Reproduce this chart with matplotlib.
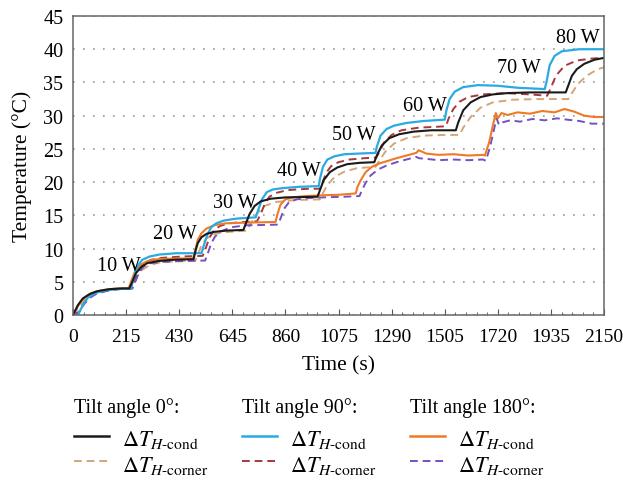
import matplotlib
matplotlib.use("Agg")
import matplotlib.pyplot as plt
from matplotlib.lines import Line2D
from matplotlib.ticker import MultipleLocator

plt.rcParams["font.family"] = ["Liberation Serif", "DejaVu Serif"]
plt.rcParams["mathtext.fontset"] = "stix"

# tilt angle 0
t_0_cond = [0, 20, 40, 70, 100, 150, 200, 228, 240, 255, 275, 300, 340, 400, 488, 495, 505, 520, 540, 570, 620, 690,
            700, 715, 735, 760, 800, 860, 990, 1000, 1015, 1040, 1070, 1110, 1160, 1220, 1230, 1250, 1280, 1320, 1380,
            1450, 1550, 1560, 1580, 1610, 1650, 1700, 1760, 1850, 1995, 2005, 2020, 2040, 2070, 2110, 2150]
T_0_cond = [0, 1.5, 2.5, 3.2, 3.6, 3.9, 4.0, 4.0, 5.0, 6.3, 7.2, 7.8, 8.1, 8.3, 8.4, 9.5, 10.8, 11.7, 12.2, 12.5, 12.7,
            12.8, 13.8, 15.2, 16.4, 17.1, 17.5, 17.7, 17.8, 18.8, 20.3, 21.5, 22.2, 22.7, 22.9, 23.0, 24.0, 25.5, 26.6,
            27.2, 27.6, 27.8, 27.8, 29.0, 30.8, 32.0, 32.8, 33.2, 33.4, 33.5, 33.5, 34.5, 36.0, 37.0, 37.8, 38.4, 38.7]

t_0_corner = [0, 25, 50, 80, 120, 170, 230, 245, 260, 280, 310, 350, 420, 495, 505, 520, 540, 565, 600, 660, 705, 720,
              745, 775, 820, 900, 1000, 1010, 1030, 1060, 1100, 1150, 1225, 1240, 1265, 1300, 1350, 1420, 1500, 1565,
              1580, 1610, 1650, 1700, 1780, 1880, 2005, 2020, 2045, 2080, 2120, 2150]
T_0_corner = [0, 1.3, 2.4, 3.1, 3.6, 3.9, 4.0, 4.7, 5.8, 6.8, 7.5, 7.9, 8.1, 8.2, 9.0, 10.5, 11.5, 12.1, 12.4, 12.6,
              12.7, 13.8, 15.3, 16.4, 17.0, 17.3, 17.4, 18.2, 19.6, 20.8, 21.6, 22.1, 22.3, 23.2, 24.6, 25.8, 26.6,
              27.0, 27.1, 27.1, 28.2, 29.8, 31.2, 32.0, 32.4, 32.5, 32.5, 33.4, 34.8, 36.0, 36.9, 37.3]

# tilt angle 90
t_90_cond = [0, 20, 40, 60, 90, 130, 180, 235, 245, 260, 280, 310, 350, 420, 520, 530, 545, 560, 580, 610, 660, 740,
             750, 765, 785, 810, 850, 920, 995, 1000, 1012, 1030, 1060, 1100, 1160, 1225, 1230, 1245, 1270, 1300, 1350,
             1420, 1505, 1512, 1525, 1545, 1580, 1640, 1720, 1800, 1910, 1918, 1930, 1950, 1980, 2050, 2150]
T_90_cond = [0, 0, 1.5, 2.6, 3.3, 3.7, 3.9, 4.0, 5.5, 7.3, 8.3, 8.8, 9.1, 9.3, 9.3, 10.5, 12.2, 13.2, 13.8, 14.2, 14.5,
             14.7, 15.8, 17.4, 18.5, 18.9, 19.1, 19.3, 19.4, 20.5, 22.3, 23.4, 23.9, 24.2, 24.3, 24.4, 25.3, 27.0,
             28.0, 28.5, 28.9, 29.2, 29.4, 30.8, 32.5, 33.6, 34.3, 34.6, 34.5, 34.2, 34.0, 35.2, 37.6, 39.0, 39.7,
             40.0, 40.0]

t_90_corner = [0, 25, 45, 70, 100, 140, 190, 240, 250, 265, 285, 315, 360, 440, 525, 537, 552, 570, 595, 630, 690, 745,
               760, 775, 795, 825, 870, 950, 1000, 1010, 1025, 1045, 1075, 1120, 1180, 1228, 1240, 1260, 1290, 1330,
               1400, 1510, 1520, 1540, 1565, 1600, 1660, 1750, 1850, 1920, 1935, 1955, 1990, 2040, 2100, 2150]
T_90_corner = [0, 0.5, 1.8, 2.8, 3.4, 3.8, 3.9, 4.0, 5.0, 6.6, 7.7, 8.3, 8.6, 8.8, 8.9, 10.0, 11.6, 12.7, 13.4, 13.8,
               14.0, 14.1, 15.2, 16.6, 17.8, 18.4, 18.8, 19.0, 19.0, 19.9, 21.4, 22.4, 23.0, 23.4, 23.6, 23.7, 24.5,
               26.0, 27.1, 27.8, 28.2, 28.4, 29.5, 31.0, 32.1, 32.8, 33.2, 33.4, 33.2, 33.0, 34.2, 36.0, 37.5, 38.3,
               38.6, 38.7]

# tilt angle 180
t_180_cond = [0, 15, 35, 60, 90, 130, 180, 225, 235, 250, 270, 300, 340, 410, 488, 495, 505, 520, 540, 570, 620, 700,
              820, 828, 840, 860, 890, 940, 1000, 1080, 1145, 1152, 1165, 1185, 1210, 1240, 1275, 1310, 1350, 1390,
              1400, 1430, 1480, 1540, 1600, 1660, 1668, 1685, 1700, 1712, 1720, 1735, 1760, 1800, 1850, 1900, 1950,
              1990, 2030, 2070, 2110, 2150]
T_180_cond = [0, 1.0, 2.2, 3.0, 3.5, 3.8, 4.0, 4.0, 5.0, 6.5, 7.5, 8.1, 8.4, 8.5, 8.5, 9.8, 11.3, 12.3, 13.0, 13.5,
              13.8, 13.9, 14.0, 15.2, 16.6, 17.4, 17.7, 17.9, 18.0, 18.1, 18.3, 19.3, 20.3, 21.5, 22.3, 22.8, 23.2,
              23.6, 24.0, 24.4, 24.8, 24.3, 24.1, 24.2, 24.0, 24.1, 24.0, 26.0, 28.5, 30.4, 29.6, 30.4, 30.1, 30.5,
              30.3, 30.7, 30.5, 31.0, 30.6, 30.0, 29.8, 29.8]

t_180_corner = [0, 20, 40, 65, 95, 135, 185, 240, 250, 265, 285, 315, 360, 430, 535, 545, 560, 575, 600, 640, 700, 830,
                840, 855, 875, 905, 950, 1010, 1100, 1160, 1170, 1185, 1205, 1235, 1270, 1310, 1350, 1390, 1400, 1430,
                1480, 1540, 1600, 1660, 1672, 1690, 1705, 1715, 1725, 1740, 1770, 1810, 1860, 1910, 1960, 2000, 2050,
                2100, 2150]
T_180_corner = [0, 0.2, 1.4, 2.5, 3.2, 3.6, 3.9, 4.0, 4.8, 6.2, 7.3, 7.8, 8.0, 8.1, 8.2, 9.2, 10.8, 11.8, 12.6, 13.2,
                13.5, 13.6, 14.5, 16.0, 17.0, 17.4, 17.6, 17.7, 17.8, 17.9, 18.8, 19.9, 21.0, 21.9, 22.5, 23.0, 23.4,
                23.8, 23.6, 23.5, 23.3, 23.4, 23.3, 23.4, 23.2, 25.5, 28.0, 29.6, 28.6, 29.0, 29.3, 29.1, 29.5, 29.3,
                29.6, 29.4, 29.2, 28.8, 28.8]

power_labels = ["10 W", "20 W", "30 W", "40 W", "50 W", "60 W", "70 W", "80 W"]
label_t = [185, 413, 656, 915, 1138, 1426, 1806, 2045]
label_T = [7.4, 12.2, 17.0, 21.7, 27.1, 31.5, 37.3, 41.8]

x_ticks = [0, 215, 430, 645, 860, 1075, 1290, 1505, 1720, 1935, 2150]

c_black = "#1a1a1a"
c_tan = "#d4a676"
c_blue = "#2aaae2"
c_red = "#a8383a"
c_orange = "#ef7a25"
c_purple = "#7450c0"

W, H = 623, 481
fig = plt.figure(figsize=(W / 100, H / 100), dpi=100)
ax = fig.add_axes([73 / W, 1 - 316 / H, 531 / W, 299 / H])

dash = (0, (4, 2.5))
ax.plot(t_0_corner, T_0_corner, color=c_tan, lw=1.4, ls=dash)
ax.plot(t_90_corner, T_90_corner, color=c_red, lw=1.4, ls=dash)
ax.plot(t_180_corner, T_180_corner, color=c_purple, lw=1.4, ls=dash)
ax.plot(t_180_cond, T_180_cond, color=c_orange, lw=1.5)
ax.plot(t_90_cond, T_90_cond, color=c_blue, lw=1.6)
ax.plot(t_0_cond, T_0_cond, color=c_black, lw=1.5)

for lab, tx, ty in zip(power_labels, label_t, label_T):
    ax.text(tx, ty, lab, fontsize=14.5, ha="center", va="center")

ax.set_xlim(0, 2150)
ax.set_ylim(0, 45)
ax.set_xticks(x_ticks)
ax.xaxis.set_minor_locator(MultipleLocator(43))
ax.set_yticks(range(0, 46, 5))
ax.tick_params(axis="x", which="major", direction="in", length=4, labelsize=14, color="#555555", pad=9)
ax.tick_params(axis="x", which="minor", direction="in", length=2.5, color="#555555")
ax.tick_params(axis="y", length=0, labelsize=14.5, pad=7)
ax.yaxis.grid(True, linestyle=(0, (1, 5)), color="#999999", lw=1.2)
ax.set_axisbelow(True)
for sp in ax.spines.values():
    sp.set_color("#666666")
    sp.set_linewidth(1.1)

ax.set_xlabel("Time (s)", fontsize=15.5, labelpad=8)
ax.set_ylabel("Temperature (°C)", fontsize=15.5, labelpad=8)

# legend drawn by hand in three columns
cond_lab = r"$\Delta T_{H\text{-cond}}$"
corner_lab = r"$\Delta T_{H\text{-corner}}$"
groups = [
    ("Tilt angle 0°:", c_black, c_tan, 74),
    ("Tilt angle 90°:", c_blue, c_red, 242),
    ("Tilt angle 180°:", c_orange, c_purple, 410),
]


def fx(px):
    return px / W


def fy(py):
    return 1 - py / H


for title, cc, ck, x0 in groups:
    fig.text(fx(x0), fy(408), title, fontsize=14.5, ha="left", va="center")
    fig.add_artist(Line2D([fx(x0), fx(x0 + 35)], [fy(437), fy(437)], color=cc, lw=1.8))
    fig.add_artist(Line2D([fx(x0), fx(x0 + 35)], [fy(462), fy(462)], color=ck, lw=1.4, ls=dash))
    fig.text(fx(x0 + 48), fy(440), cond_lab, fontsize=16, ha="left", va="center")
    fig.text(fx(x0 + 48), fy(466), corner_lab, fontsize=16, ha="left", va="center")

fig.savefig("out.png", dpi=100)
